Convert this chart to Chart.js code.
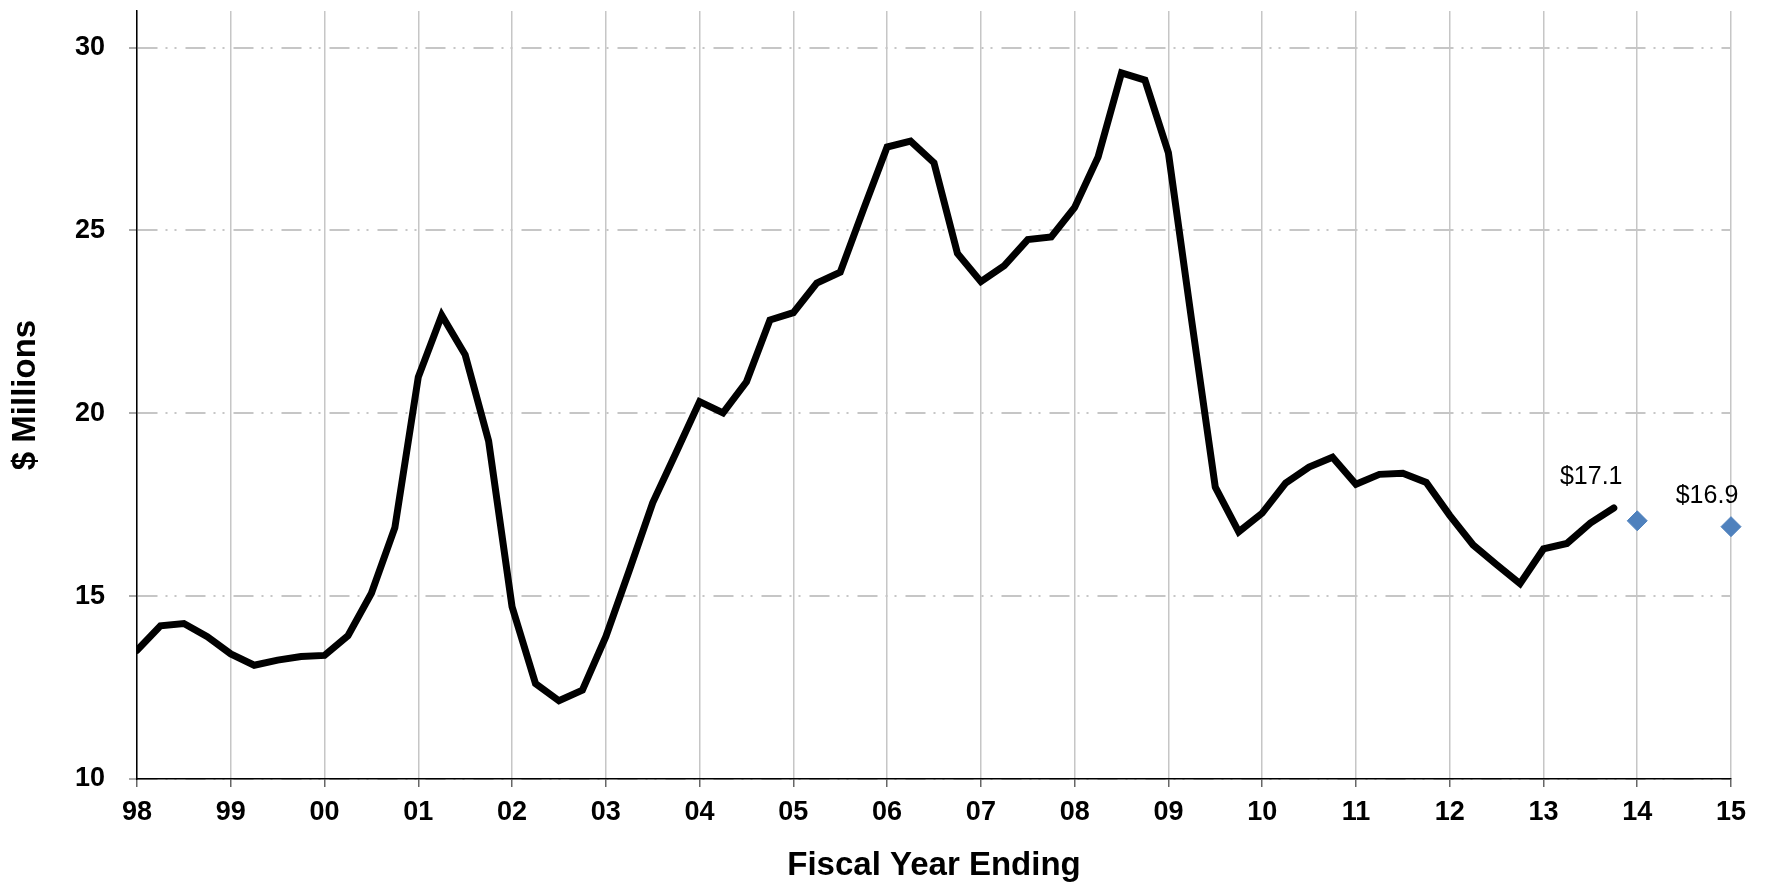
<!DOCTYPE html>
<html>
<head>
<meta charset="utf-8">
<script src="https://cdn.jsdelivr.net/npm/chart.js@4.4.1/dist/chart.umd.min.js"></script>
<style>
  html, body { margin: 0; padding: 0; background: #fff; }
  #wrap { width: 1769px; height: 889px; }
</style>
</head>
<body>
<div id="wrap"><canvas id="revChart" width="1769" height="889"></canvas></div>
<script>
// tick labels along the bottom, one per fiscal year
const fiscalYears = ['98', '99', '00', '01', '02', '03', '04', '05', '06', '07', '08', '09', '10', '11', '12', '13', '14', '15'];

// quarterly actuals in $ millions, first value is the start of FY98
const quarterlyRevenue = [
    13.52, 14.19, 14.25, 13.89,   // 98
    13.42, 13.11, 13.25, 13.35,   // 99
    13.38, 13.92, 15.08, 16.87,   // 00
    20.99, 22.68, 21.60, 19.24,   // 01
    14.71, 12.61, 12.14, 12.43,   // 02
    13.89, 15.70, 17.55, 18.93,   // 03
    20.32, 20.01, 20.86, 22.55,   // 04
    22.75, 23.56, 23.86, 25.59,   // 05
    27.28, 27.44, 26.85, 24.37,   // 06
    23.60, 24.04, 24.75, 24.82,   // 07
    25.63, 27.01, 29.31, 29.11,   // 08
    27.12, 22.50, 17.98, 16.76,   // 09
    17.27, 18.09, 18.53, 18.80,   // 10
    18.06, 18.33, 18.36, 18.11,   // 11
    17.21, 16.40, 15.86, 15.34,   // 12
    16.29, 16.44, 17.00, 17.41    // 13
];

// year-end estimates (blue diamonds)
const estimateYears = ['14', '15'];
const estimateValues = [17.06, 16.9];

const yTicks = [10, 15, 20, 25, 30];

// build points for the linear x scale (x = years since FY98)
const actualPoints = quarterlyRevenue.map((v, i) => ({ x: i / 4, y: v }));
const estimatePoints = estimateYears.map((yr, i) => ({ x: fiscalYears.indexOf(yr), y: estimateValues[i] }));

// draws the "$17.1" / "$16.9" text next to the diamonds
const estimateLabels = {
    id: 'estimateLabels',
    afterDatasetsDraw(chart) {
        const meta = chart.getDatasetMeta(1);
        const ctx = chart.ctx;
        const offsets = [[-46, -44], [-24, -31]];
        ctx.save();
        ctx.font = '25px "Liberation Sans", Arial, sans-serif';
        ctx.fillStyle = '#000';
        ctx.textAlign = 'center';
        ctx.textBaseline = 'middle';
        meta.data.forEach((pt, i) => {
            ctx.fillText('$' + estimateValues[i].toFixed(1), pt.x + offsets[i][0], pt.y + offsets[i][1]);
        });
        ctx.restore();
    }
};

const tickFont = { family: '"Liberation Sans", Arial, sans-serif', size: 27, weight: 'bold' };
const titleFont = { family: '"Liberation Sans", Arial, sans-serif', size: 33, weight: 'bold' };

const ctx = document.getElementById('revChart').getContext('2d');
const revChart = new Chart(ctx, {
    type: 'line',
    data: {
        datasets: [{
            label: 'Revenue',
            data: actualPoints,
            borderColor: '#000',
            borderWidth: 7,
            borderCapStyle: 'round',
            pointRadius: 0,
            tension: 0,
            fill: false
        }, {
            label: 'Estimate',
            data: estimatePoints,
            showLine: false,
            clip: false,
            pointStyle: 'rectRot',
            pointRadius: 10,
            pointBackgroundColor: '#4f81bd',
            pointBorderColor: '#4f81bd',
            pointBorderWidth: 1
        }]
    },
    options: {
        responsive: false,
        animation: false,
        devicePixelRatio: 1,
        layout: { padding: { left: 0, right: 38, top: 9, bottom: 0 } },
        plugins: {
            legend: { display: false },
            tooltip: { enabled: false }
        },
        scales: {
            x: {
                type: 'linear',
                min: 0,
                max: fiscalYears.length - 1,
                afterFit: (scale) => {
                    scale.height = 110;
                    scale.paddingLeft = 0;
                    scale.paddingRight = 0;
                },
                ticks: {
                    stepSize: 1,
                    autoSkip: false,
                    maxRotation: 0,
                    padding: 9,
                    color: '#000',
                    font: tickFont,
                    callback: (v) => fiscalYears[v]
                },
                grid: {
                    color: '#c6c6c6',
                    lineWidth: 1.5,
                    tickLength: 8,
                    tickColor: '#666'
                },
                border: { color: '#000', width: 1.5 },
                title: {
                    display: true,
                    text: 'Fiscal Year Ending',
                    color: '#000',
                    font: titleFont,
                    padding: { top: 0, bottom: 3 }
                }
            },
            y: {
                min: 10,
                max: 31,
                afterFit: (scale) => {
                    scale.width = 137;
                    scale.paddingTop = 0;
                    scale.paddingBottom = 0;
                },
                ticks: {
                    stepSize: 5,
                    includeBounds: false,
                    padding: 24,
                    color: '#000',
                    font: tickFont,
                    callback: (v) => yTicks.includes(v) ? v : null
                },
                grid: {
                    color: '#c6c6c6',
                    lineWidth: 2,
                    tickLength: 8,
                    tickColor: '#aaa'
                },
                border: { color: '#000', width: 1.5, dash: [20, 8, 2, 7, 2, 9] },
                title: {
                    display: true,
                    text: '$ Millions',
                    color: '#000',
                    font: titleFont,
                    padding: { top: 6, bottom: 0 }
                }
            }
        }
    },
    plugins: [estimateLabels]
});
</script>
</body>
</html>
